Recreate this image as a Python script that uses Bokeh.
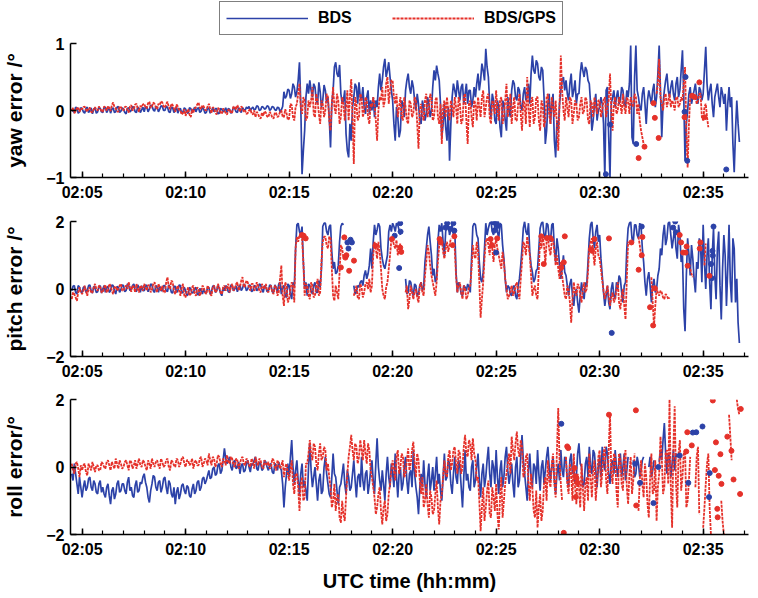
from bokeh.plotting import figure
from bokeh.layouts import column
from bokeh.models import Legend, LegendItem, FixedTicker, Range1d
from bokeh.embed import file_html
from bokeh.resources import INLINE

nan = float("nan")

# ---------------- data: samples every 7.5 s from 02:04:30 ("main"),
# plus the samples half-way between them ("mid") ----------------
start_time = "02:04:30"
step_seconds = 7.5

yaw_bds = [
    0.02, -0.03, 0.04, -0.02,
    0.03, -0.04, 0.05, 0.00, -0.05, 0.04, -0.02, 0.03,
    -0.03, 0.05, 0.01, -0.04, 0.04, -0.02, 0.06, -0.01,
    0.02, -0.05, 0.04, 0.00, 0.05, -0.03, 0.03, 0.01,
    -0.02, 0.05, 0.02, 0.07, -0.01, 0.05, 0.02, 0.06,
    0.00, 0.05, -0.03, 0.04, 0.00, -0.04, 0.03, -0.02,
    0.02, -0.04, 0.03, 0.00, -0.02, 0.04, -0.01, 0.02,
    -0.03, 0.03, 0.00, -0.02, 0.03, -0.04, 0.02, 0.00,
    -0.03, 0.02, -0.01, 0.03, -0.03, 0.01, 0.04, 0.00,
    0.03, 0.00, 0.05, 0.02, 0.06, 0.01, 0.05, 0.03,
    0.06, 0.02, 0.05, 0.00, 0.04, 0.01, 0.28, 0.22,
    0.30, 0.25, 0.35, 0.28, 0.72, -0.95, -0.30, 0.40,
    0.45, 0.20, 0.35, 0.10, 0.28, 0.15, 0.30, 0.20,
    -0.55, 0.30, 0.72, 0.50, 0.25, 0.15, -0.35, -0.70,
    -0.45, 0.20, 0.35, 0.42, 0.15, 0.05, 0.20, -0.05,
    0.00, -0.10, 0.05, 0.55, 0.45, 0.77, 0.60, 0.50,
    0.15, -0.45, -0.10, -0.30, 0.10, 0.30, 0.55, 0.25,
    0.35, 0.00, 0.10, -0.20, 0.05, -0.05, 0.10, 0.00,
    0.60, 0.67, 0.45, -0.40, 0.10, -0.45, -0.75, 0.20,
    0.30, 0.45, 0.15, 0.40, 0.25, 0.10, 0.30, 0.15,
    0.20, 0.55, 0.45, 0.60, 0.92, 0.50, -0.10, 0.15,
    -0.20, 0.05, -0.40, 0.10, -0.30, 0.00, 0.30, 0.40,
    0.15, 0.30, 0.00, 0.35, 0.20, 0.10, 0.82, 0.55,
    0.70, 0.45, 0.60, -0.50, 0.10, -0.20, 0.25, -0.70,
    -0.30, 0.30, 0.50, 0.45, 0.15, 0.55, 0.30, 0.10,
    0.25, 0.72, 0.50, 0.60, 0.40, -0.30, 0.10, -0.15,
    0.05, 0.10, -1.00, 0.35, -1.00, 0.20, 0.05, 0.30,
    0.15, 0.30, 0.05, 0.20, 0.97, -0.50, 0.97, 0.20,
    0.00, 0.35, -0.20, 0.30, 0.10, 0.40, 0.20, 0.97,
    -0.40, 0.30, 0.55, 0.20, 0.45, 0.15, 0.50, 0.30,
    0.90, -0.75, 0.00, 0.35, 0.20, 0.40, 0.10, 0.30,
    0.25, 0.95, 0.15, 0.40, -0.10, 0.30, 0.20, 0.35,
    0.10, -0.30, 0.35, 0.20, -0.92, 0.15, -0.47,
]
yaw_bds_mid = [
    -0.01, 0.05, -0.04, 0.04,
    -0.02, 0.03, -0.03, 0.04, 0.02, -0.04, 0.05, -0.02,
    0.04, -0.03, 0.05, 0.02, -0.03, 0.05, -0.03, 0.04,
    -0.03, 0.03, -0.02, 0.06, -0.02, 0.05, -0.03, 0.05,
    0.06, -0.02, 0.08, 0.01, 0.06, -0.02, 0.07, 0.00,
    0.06, -0.02, 0.05, -0.03, 0.05, 0.02, -0.04, 0.04,
    -0.03, 0.04, -0.03, 0.05, 0.03, -0.03, 0.05, -0.04,
    0.04, -0.04, 0.04, 0.03, -0.05, 0.03, -0.02, 0.04,
    0.03, -0.04, 0.05, -0.02, 0.04, -0.03, 0.01, 0.05,
    0.06, 0.03, 0.01, 0.07, 0.00, 0.06, 0.02, 0.07,
    0.00, 0.06, 0.01, 0.05, -0.02, 0.06, 0.18, 0.32,
    0.18, 0.40, 0.20, 0.45, 0.10, -0.60, 0.20, 0.25,
    0.30, 0.40, 0.15, 0.42, 0.05, 0.38, 0.12, -0.10,
    0.10, 0.65, 0.55, 0.68, 0.10, 0.30, -0.60, -0.20,
    0.05, 0.40, 0.10, 0.20, 0.35, -0.05, 0.30, 0.15,
    0.20, 0.15, 0.35, 0.30, 0.65, 0.50, 0.72, 0.30,
    -0.20, 0.05, -0.40, 0.15, -0.10, 0.45, 0.35, 0.45,
    0.15, 0.25, -0.15, 0.15, -0.15, 0.20, -0.10, 0.35,
    0.45, 0.55, 0.10, -0.20, -0.25, 0.05, -0.20, 0.40,
    0.20, 0.30, 0.35, 0.10, 0.40, 0.30, 0.05, 0.35,
    0.40, 0.30, 0.70, 0.45, 0.65, 0.10, 0.25, -0.15,
    0.15, -0.25, 0.15, -0.15, 0.20, -0.10, 0.45, 0.20,
    0.35, 0.05, 0.25, 0.15, 0.40, 0.55, 0.60, 0.75,
    0.50, 0.65, 0.20, -0.30, 0.25, 0.10, -0.45, -0.15,
    0.10, 0.45, 0.30, 0.25, 0.40, 0.20, 0.45, 0.25,
    0.55, 0.60, 0.65, 0.45, 0.10, -0.15, 0.25, 0.00,
    0.20, -0.20, 0.30, -0.40, 0.10, 0.30, 0.20, 0.10,
    0.35, 0.10, 0.30, 0.40, -0.40, 0.50, 0.30, 0.05,
    0.25, 0.10, 0.15, 0.20, 0.30, 0.05, 0.55, 0.30,
    0.10, 0.45, 0.30, 0.35, 0.25, 0.40, 0.20, 0.60,
    0.20, -0.20, 0.25, 0.10, 0.30, 0.20, 0.35, 0.15,
    0.60, 0.40, 0.30, 0.10, 0.20, 0.40, 0.05, 0.25,
    0.25, 0.10, 0.05, -0.50, -0.30, -0.20, nan,
]

yaw_gps = [
    0.00, -0.04, 0.03, -0.02,
    0.02, 0.06, -0.02, 0.04, -0.03, 0.05, 0.00, 0.03,
    -0.02, 0.04, 0.07, -0.01, 0.12, 0.03, -0.02, 0.05,
    0.00, 0.06, -0.03, 0.08, 0.02, 0.10, -0.02, 0.05,
    0.10, 0.03, 0.13, 0.06, 0.10, 0.02, 0.08, 0.12,
    0.04, 0.13, 0.02, 0.08, -0.02, 0.06, 0.00, -0.04,
    -0.08, 0.02, -0.10, -0.03, 0.05, 0.12, 0.02, 0.06,
    0.00, 0.10, -0.04, 0.03, -0.06, 0.02, -0.05, 0.00,
    -0.06, 0.02, -0.03, 0.05, 0.08, -0.02, 0.04, 0.00,
    -0.04, 0.02, -0.06, -0.10, -0.05, -0.12, -0.08, -0.03,
    -0.10, -0.05, -0.12, -0.04, -0.08, 0.00, -0.10, -0.04,
    -0.12, 0.08, -0.15, 0.10, 0.40, -0.05, 0.15, -0.10,
    0.05, 0.35, -0.10, 0.15, -0.20, 0.10, 0.00, 0.20,
    -0.30, 0.35, -0.05, 0.15, -0.10, 0.10, 0.05, -0.15,
    0.47, -0.80, 0.10, -0.10, 0.20, 0.00, 0.15, -0.20,
    0.05, 0.10, -0.45, 0.20, 0.35, 0.15, 0.50, 0.30,
    0.45, 0.10, -0.10, 0.20, -0.15, 0.05, -0.20, 0.10,
    -0.05, 0.15, -0.57, 0.10, -0.15, 0.25, 0.00, 0.20,
    -0.10, 0.20, -0.20, -0.50, 0.15, 0.20, -0.15, 0.05,
    0.20, -0.20, 0.10, -0.15, 0.25, -0.50, 0.15, -0.25,
    0.10, 0.20, -0.10, 0.30, 0.05, 0.25, -0.20, 0.10,
    0.30, -0.15, 0.20, -0.10, 0.40, 0.05, -0.20, 0.20,
    -0.15, 0.25, -0.30, 0.10, 0.50, -0.25, 0.20, -0.10,
    0.20, -0.30, 0.10, -0.15, 0.25, -0.20, 0.05, 0.15,
    -0.60, 0.82, 0.00, 0.20, -0.10, 0.15, -0.05, 0.10,
    -0.10, 0.20, 0.00, 0.15, -0.20, 0.10, 0.20, -0.05,
    0.15, 0.00, 0.20, 0.05, 0.55, -0.30, 0.20, 0.00,
    0.10, 0.25, -0.05, 0.15, 0.20, 0.05, 0.20, 0.10,
    -0.30, -0.50, nan, nan, nan, nan, 0.25, 0.77,
    0.10, 0.20, 0.05, 0.25, 0.15, 0.00, 0.20, 0.10,
    0.15, 0.65, -0.85, 0.20, nan, 0.20, 0.15, 0.25,
    -0.15, 0.10, -0.25, nan, nan, nan, nan, nan,
    nan, nan, nan, nan, nan, nan, nan,
]
yaw_gps_mid = [
    0.04, -0.01, 0.05, 0.03,
    0.05, 0.01, 0.04, -0.02, 0.02, 0.01, 0.06, -0.01,
    0.06, 0.00, 0.03, 0.08, 0.05, -0.01, 0.06, 0.01,
    0.05, 0.01, 0.06, 0.00, 0.09, 0.03, 0.07, 0.09,
    0.05, 0.11, 0.04, 0.12, 0.05, 0.10, 0.14, 0.06,
    0.10, 0.05, 0.10, 0.03, 0.09, 0.01, -0.06, 0.02,
    -0.02, -0.06, 0.02, 0.03, 0.09, 0.04, 0.08, 0.01,
    0.06, 0.02, 0.05, -0.03, 0.04, -0.03, 0.03, -0.04,
    0.01, -0.04, 0.06, 0.01, 0.03, 0.06, -0.02, -0.05,
    0.00, -0.04, 0.00, -0.02, -0.10, -0.03, -0.01, -0.09,
    -0.02, -0.11, -0.03, -0.10, -0.02, -0.09, 0.02, -0.14,
    0.10, -0.10, 0.05, 0.25, 0.05, 0.20, -0.15, 0.15,
    0.15, -0.05, 0.25, -0.05, 0.15, -0.10, 0.25, -0.15,
    0.10, 0.05, 0.25, -0.20, 0.20, -0.15, 0.30, 0.20,
    -0.10, 0.20, -0.15, 0.25, -0.10, 0.20, -0.10, 0.10,
    0.20, -0.15, 0.00, 0.15, 0.05, 0.40, 0.10, 0.45,
    0.20, 0.25, 0.05, -0.10, 0.20, -0.15, 0.15, -0.10,
    0.20, -0.20, 0.00, -0.10, 0.15, -0.10, 0.25, -0.15,
    0.15, -0.10, 0.10, 0.05, -0.10, 0.00, 0.15, -0.10,
    0.05, 0.20, -0.20, 0.20, -0.15, 0.10, -0.10, 0.15,
    -0.15, 0.05, 0.20, -0.10, 0.20, -0.10, 0.15, -0.05,
    0.00, 0.15, -0.20, 0.15, -0.10, 0.25, 0.05, -0.15,
    0.10, -0.05, 0.15, -0.20, 0.05, 0.15, -0.20, 0.20,
    -0.15, 0.15, -0.25, 0.20, -0.05, 0.20, -0.10, -0.20,
    0.10, 0.30, -0.15, 0.05, 0.20, -0.20, 0.15, -0.15,
    0.10, -0.05, 0.20, -0.15, 0.15, -0.10, 0.05, 0.15,
    -0.10, 0.15, -0.10, 0.15, 0.00, 0.10, -0.05, 0.20,
    -0.05, 0.05, 0.20, -0.05, 0.10, 0.25, -0.05, -0.15,
    -0.40, nan, nan, nan, nan, nan, 0.40, 0.20,
    0.00, 0.25, 0.15, 0.05, 0.10, 0.20, 0.05, 0.20,
    0.40, -0.30, -0.20, nan, nan, 0.10, 0.25, -0.10,
    0.05, -0.10, nan, nan, nan, nan, nan, nan,
    nan, nan, nan, nan, nan, nan, nan,
]

pitch_bds = [
    -0.05, 0.10, -0.15, 0.05,
    -0.10, 0.08, -0.05, 0.12, -0.12, 0.02, -0.08, 0.10,
    0.00, -0.10, 0.08, -0.05, 0.10, -0.15, 0.05, -0.02,
    0.10, -0.05, 0.12, 0.00, 0.15, -0.08, 0.05, 0.10,
    -0.05, 0.10, 0.00, 0.12, -0.10, 0.05, 0.08, -0.05,
    0.10, -0.08, 0.05, -0.12, 0.08, -0.05, 0.10, -0.10,
    -0.05, -0.15, 0.00, -0.10, 0.05, -0.18, -0.05, 0.00,
    -0.12, 0.05, -0.08, 0.10, -0.05, 0.02, -0.20, -0.05,
    0.05, -0.10, 0.10, 0.00, -0.08, 0.12, 0.02, 0.10,
    0.00, 0.10, -0.05, 0.08, 0.00, 0.12, -0.10, 0.05,
    -0.05, 0.10, -0.10, 0.05, 0.15, -0.15, 0.10, -0.25,
    0.10, -0.30, 0.05, 1.90, 1.70, 1.85, 0.00, -0.20,
    0.10, -0.15, 0.20, -0.10, 0.05, 1.85, 1.95, 1.60,
    1.90, 0.60, 0.45, 0.70, 1.85, 1.90, nan, nan,
    nan, 0.10, -0.10, 0.05, 0.25, 0.40, 0.30, 0.70,
    0.60, 1.90, 1.75, 1.85, 0.90, 0.60, 1.00, 1.90,
    1.95, 1.70, 1.90, 1.60, nan, 0.30, -0.10, 0.20,
    -0.20, 0.10, -0.15, 0.20, 0.05, 1.20, 1.85, 1.00,
    0.60, 0.30, 1.90, 1.95, 0.98, 1.85, 1.60, 1.90,
    1.80, -0.10, 0.10, -0.20, 0.05, 0.15, -0.10, 1.85,
    1.90, 1.50, 0.30, 0.50, 1.95, 1.80, 2.00, 1.60,
    1.95, 1.50, 1.90, 0.90, -0.10, 0.05, -0.20, 0.10,
    -0.30, 0.30, 1.20, 2.00, 1.60, 1.10, 0.50, 0.30,
    0.60, 1.80, 2.00, 1.50, 1.90, 1.40, 1.95, 0.80,
    1.20, 0.30, 1.00, 0.40, -0.20, 0.30, -0.50, 0.00,
    -0.70, 0.20, -0.30, 0.10, 1.50, 2.00, 1.20, 1.90,
    1.60, 0.40, -0.50, 0.10, -0.60, 0.20, -0.30, 0.00,
    0.30, -0.40, 0.20, 1.80, 2.00, 1.40, 1.90, 1.50,
    1.85, 0.80, -0.20, 0.50, -0.40, 0.30, 0.00, 0.60,
    1.00, 1.90, 1.50, 2.00, 1.20, 1.80, 0.90, 1.60,
    1.00, -1.25, 1.50, 0.40, 0.90, -0.10, 0.60, 1.30,
    1.90, 0.00, 1.50, -0.60, 1.80, -0.30, 1.70, -0.90,
    1.60, -0.50, 1.90, -0.40, 1.20, 0.30, -1.60,
]
pitch_bds_mid = [
    0.08, -0.10, 0.10, -0.08,
    0.05, -0.10, 0.10, -0.05, 0.08, -0.10, 0.05, -0.12,
    0.10, 0.05, -0.10, 0.12, -0.05, 0.08, -0.10, 0.12,
    -0.08, 0.15, -0.05, 0.10, -0.05, 0.12, -0.10, -0.05,
    0.12, -0.08, 0.15, -0.05, 0.10, -0.10, -0.05, 0.10,
    -0.05, 0.12, -0.10, 0.08, -0.10, 0.12, -0.12, 0.05,
    -0.20, 0.05, -0.12, 0.00, -0.15, 0.02, -0.15, -0.10,
    0.05, -0.15, 0.08, -0.10, 0.10, -0.12, 0.05, 0.10,
    -0.08, 0.12, -0.05, 0.10, 0.05, -0.05, 0.15, -0.05,
    0.12, -0.08, 0.10, -0.05, 0.15, -0.02, 0.10, -0.08,
    0.12, -0.08, 0.12, -0.10, 0.20, 0.05, -0.20, 0.15,
    -0.15, 0.20, 1.20, 1.95, 1.60, 0.80, 0.20, 0.15,
    -0.05, 0.10, -0.10, 0.25, 0.60, 1.95, 1.70, 1.85,
    1.10, 0.80, 0.50, 1.40, 1.95, nan, nan, nan,
    nan, -0.15, 0.10, 0.20, 0.10, 0.55, 0.45, 1.20,
    1.40, 1.60, 1.95, 1.20, 0.70, 0.80, 1.70, 1.70,
    1.85, 1.95, 1.75, nan, nan, -0.15, 0.25, -0.05,
    0.15, -0.20, 0.10, -0.05, 0.80, 1.60, 1.40, 0.40,
    0.20, 1.40, 1.70, 1.40, 1.70, 1.90, 1.75, 1.60,
    0.50, 0.20, -0.15, 0.10, -0.05, 0.05, 0.90, 1.95,
    1.60, 0.80, 0.20, 1.20, 1.60, 1.95, 1.70, 1.90,
    1.70, 1.95, 1.30, 0.30, 0.10, -0.15, 0.05, -0.20,
    0.10, 0.70, 1.80, 1.70, 1.95, 0.70, 0.20, 0.55,
    1.20, 1.95, 1.60, 1.95, 1.50, 1.90, 1.20, 1.50,
    0.70, 0.60, 0.50, 0.10, 0.15, -0.20, -0.10, -0.40,
    -0.20, -0.10, 0.20, 0.80, 1.90, 1.50, 1.70, 1.40,
    0.90, -0.10, -0.20, -0.40, 0.00, -0.20, 0.20, 0.40,
    -0.10, 0.10, 1.20, 1.95, 1.50, 1.90, 1.60, 1.95,
    1.20, 0.20, 0.30, 0.10, 0.10, -0.10, 0.40, 1.20,
    1.60, 1.30, 1.95, 1.60, 1.50, 1.20, 1.90, 0.80,
    -0.60, 0.40, 1.00, 1.30, 0.30, 0.80, 1.50, 0.20,
    0.80, 1.00, 0.20, 1.00, 0.40, 1.20, 0.10, 0.60,
    1.00, 0.60, 0.20, 1.50, -0.40, -1.00, nan,
]

pitch_gps = [
    -0.30, -0.15, -0.35, 0.05,
    -0.15, 0.10, -0.20, 0.05, -0.10, 0.15, -0.05, 0.08,
    -0.10, 0.12, -0.05, 0.10, -0.15, 0.08, 0.00, 0.15,
    -0.05, 0.10, 0.20, -0.08, 0.05, 0.15, -0.10, 0.05,
    0.15, -0.05, 0.10, 0.00, 0.20, -0.10, 0.05, 0.10,
    -0.10, 0.35, 0.00, 0.20, -0.15, 0.10, -0.20, 0.15,
    -0.25, 0.05, -0.15, 0.10, -0.20, 0.00, -0.10, 0.05,
    -0.15, 0.00, -0.20, 0.10, -0.05, 0.05, -0.15, 0.10,
    0.05, -0.10, 0.15, 0.00, 0.20, 0.05, 0.35, 0.10,
    0.20, -0.05, 0.15, 0.00, 0.10, -0.10, 0.05, 0.15,
    -0.10, 0.10, -0.15, 0.05, -0.10, 0.70, -0.50, 0.10,
    -0.30, 0.20, -0.40, 1.55, 1.60, 1.50, -0.20, 0.10,
    -0.30, 0.10, -0.20, 0.30, -0.10, 1.40, 1.55, 1.20,
    1.50, -0.20, 0.10, -0.30, 1.30, 0.90, nan, nan,
    nan, -0.20, 0.10, -0.30, 0.05, -0.10, 0.20, 0.30,
    0.10, 1.40, 0.90, 1.10, 0.00, -0.30, 0.20, 1.00,
    1.50, 1.20, 1.00, 1.35, nan, -0.10, -0.60, 0.10,
    -0.30, 0.00, -0.40, 0.20, -0.20, 0.80, 1.10, 0.40,
    0.00, 0.20, 1.30, 1.45, 0.90, 1.40, 1.30, nan,
    1.20, -0.10, 0.20, -0.30, 0.00, -0.20, 0.10, 1.30,
    0.90, 1.10, -0.85, 0.20, 1.40, 1.30, 1.50, 0.80,
    1.45, 1.00, 0.60, 0.80, 0.00, -0.20, 0.10, -0.10,
    0.20, -0.30, 0.80, 1.30, 1.55, 1.00, -0.20, 0.10,
    -0.30, 1.50, 1.55, 0.75, 1.55, 1.00, 1.50, 0.70,
    0.60, 0.80, 0.10, -0.30, 0.00, -1.00, 0.20, -0.20,
    0.10, -0.40, 0.20, 0.00, 1.20, 1.50, 0.70, 1.40,
    0.90, 0.25, -0.30, 0.10, -0.50, -0.10, -0.30, 0.20,
    -0.60, 0.00, -0.90, 1.40, nan, 0.60, nan, 1.55,
    1.00, nan, -0.55, nan, 0.35, -1.10, 0.00, -0.20,
    -0.10, -0.30, -0.20, -0.25, nan, nan, nan, nan,
    nan, nan, nan, 0.60, 0.35, nan, nan, nan,
    nan, 1.35, 0.00, nan, nan, nan, nan, nan,
    nan, nan, nan, nan, nan, nan, nan,
]
pitch_gps_mid = [
    -0.10, -0.25, -0.10, -0.10,
    -0.05, -0.05, 0.00, -0.12, 0.05, 0.00, 0.10, -0.10,
    0.05, -0.10, 0.15, -0.05, 0.05, -0.05, 0.10, -0.05,
    0.05, 0.00, 0.05, 0.10, -0.10, 0.00, 0.10, -0.05,
    0.05, 0.12, -0.10, 0.15, 0.00, 0.15, -0.05, -0.10,
    0.20, 0.05, 0.25, -0.05, 0.00, -0.05, 0.05, -0.20,
    -0.05, -0.20, 0.05, -0.15, 0.05, -0.20, 0.10, -0.10,
    0.10, -0.15, 0.05, -0.10, 0.15, -0.10, 0.05, -0.05,
    0.15, 0.05, -0.05, 0.15, -0.05, 0.25, 0.05, 0.25,
    0.05, 0.15, -0.05, 0.20, -0.05, 0.15, 0.00, -0.05,
    0.05, -0.10, 0.10, -0.20, 0.30, -0.20, 0.20, -0.40,
    0.00, 0.10, 1.20, 1.40, 1.55, 0.80, 0.15, -0.20,
    0.20, -0.25, 0.10, -0.20, 0.80, 1.55, 1.30, 1.55,
    0.60, -0.35, -0.10, 0.50, 1.20, nan, nan, nan,
    nan, -0.05, -0.25, 0.15, -0.25, 0.15, 0.00, -0.10,
    1.00, 1.20, 1.40, 0.60, -0.20, 0.05, 0.60, 1.45,
    1.30, 1.45, 1.20, nan, nan, 0.10, -0.30, -0.10,
    -0.10, -0.25, 0.10, -0.10, 0.40, 1.30, 0.70, 0.20,
    -0.20, 0.80, 1.50, 1.10, 1.20, 1.10, 1.50, nan,
    0.40, 0.10, -0.10, 0.10, -0.30, 0.05, 0.60, 1.00,
    1.40, 0.20, -0.30, 0.90, 1.50, 1.00, 1.20, 1.30,
    1.20, 0.80, 1.10, 0.30, -0.30, -0.05, -0.20, 0.10,
    -0.10, 0.30, 1.40, 1.00, 1.30, 0.40, 0.00, -0.20,
    0.60, 1.20, 1.30, 1.40, 1.20, 1.40, 1.10, 1.00,
    0.30, 0.40, -0.20, 0.10, -0.40, -0.30, -0.10, 0.15,
    -0.20, 0.00, -0.10, 0.50, 1.40, 1.10, 1.20, 1.00,
    0.60, -0.05, -0.10, -0.20, -0.25, -0.40, 0.00, -0.40,
    -0.20, -0.50, 0.30, nan, nan, nan, nan, 1.30,
    nan, nan, nan, nan, -0.40, -0.50, -0.10, -0.05,
    -0.25, -0.15, -0.30, nan, nan, nan, nan, nan,
    nan, nan, nan, 0.45, nan, nan, nan, nan,
    0.70, nan, nan, nan, nan, nan, nan, nan,
    nan, nan, nan, nan, nan, nan, nan,
]

roll_bds = [
    -0.20, 0.10, -0.50, -0.30,
    -0.90, -0.40, -0.60, -0.30, -0.70, -0.50, -0.80, -0.40,
    -0.60, -0.90, -0.50, -1.10, -0.60, -0.80, -0.40, -0.70,
    -0.50, -0.80, -0.30, -0.60, -0.90, -0.40, -0.70, -0.50,
    -0.20, -0.60, -1.05, -0.50, -0.30, -0.70, -0.40, -0.60,
    -0.30, -0.80, -0.50, -0.90, -1.10, -0.60, -0.80, -0.50,
    -0.80, -0.60, -0.90, -0.50, -0.70, -0.40, -0.60, -0.30,
    -0.40, -0.10, -0.30, 0.00, -0.20, 0.10, -0.10, 0.55,
    0.10, 0.30, -0.10, 0.20, 0.00, -0.20, 0.10, -0.10,
    0.20, -0.15, 0.05, 0.30, -0.10, 0.10, -0.05, 0.15,
    -0.10, 0.10, -0.20, 0.05, 0.15, -0.10, -1.20, -0.20,
    -0.30, 0.80, -0.50, 0.20, -0.80, 0.10, -0.40, -1.00,
    0.70, -0.60, 0.00, -1.00, -0.20, -0.70, 0.30, -0.50,
    -0.90, 0.40, -0.30, -1.10, -0.50, 0.10, -0.80, -0.30,
    -0.60, 0.20, -0.90, -0.20, 0.30, -0.70, -0.10, -0.50,
    0.20, -0.80, 0.85, -0.40, -0.10, -1.00, 0.30, -0.60,
    -0.20, 0.40, -0.90, 0.00, -0.50, 0.30, -0.80, -0.10,
    0.50, -0.60, -1.40, -0.20, 0.20, -0.90, 0.10, -0.40,
    -0.70, 0.30, -0.20, -1.00, 0.40, -0.30, 0.10, -0.80,
    0.30, -0.50, 0.00, -1.20, 0.50, -0.20, -0.70, 0.20,
    -0.40, 0.40, -0.90, 0.10, -0.30, 0.60, -0.60, 0.00,
    0.50, -0.80, 0.20, -0.30, 0.60, -0.50, 0.10, -0.90,
    0.30, -0.40, 0.95, -0.20, -1.00, 0.40, -0.60, 0.00,
    0.50, -0.70, 0.20, -0.10, 0.60, -0.40, 0.30, -0.80,
    0.10, 0.50, -0.30, 0.20, -0.60, 0.40, 0.00, -0.30,
    0.70, 0.00, -0.50, 0.30, 0.60, -0.20, 0.40, -0.60,
    0.30, 0.60, -0.10, 0.40, -0.50, 0.20, 0.50, -0.30,
    0.40, 0.00, -0.40, 0.30, nan, 0.20, -0.20, 0.10,
    -0.10, 0.30, nan, 0.00, -0.30, 0.20, nan, 0.15,
    0.20, 1.30, -0.20, 0.30, 0.10, -0.10, 0.30, nan,
    nan, nan, nan, nan, nan, nan, nan, nan,
    nan, nan, nan, nan, nan, nan, nan, nan,
    nan, nan, nan, nan, nan, nan, nan,
]
roll_bds_mid = [
    -0.40, -0.20, -0.80, -0.60,
    -0.60, -0.70, -0.35, -0.60, -0.40, -0.75, -0.50, -0.75,
    -0.80, -0.60, -0.85, -0.70, -0.95, -0.50, -0.75, -0.50,
    -0.70, -0.45, -0.70, -0.85, -0.55, -0.75, -0.45, -0.30,
    -0.45, -0.90, -0.70, -0.25, -0.60, -0.45, -0.75, -0.35,
    -0.60, -0.40, -0.80, -0.60, -0.75, -0.95, -0.55, -0.70,
    -0.55, -0.85, -0.65, -0.80, -0.45, -0.70, -0.35, -0.50,
    -0.25, -0.35, -0.05, -0.25, 0.05, -0.20, 0.20, 0.25,
    0.20, 0.00, 0.15, -0.05, 0.15, 0.05, -0.15, 0.10,
    0.00, 0.10, 0.20, -0.05, 0.15, -0.10, 0.20, 0.00,
    0.05, -0.15, 0.10, -0.10, 0.00, -0.50, -0.60, 0.10,
    0.30, 0.00, -0.10, -0.40, -0.20, -0.60, -0.70, 0.00,
    -0.10, -0.30, -0.50, -0.40, -0.80, 0.00, -0.20, -0.80,
    -0.30, -0.20, -0.70, -0.60, -0.20, -0.50, -0.10, -0.70,
    -0.20, -0.40, -0.30, -0.60, -0.40, -0.20, -0.80, -0.10,
    -0.40, 0.10, 0.00, -0.70, -0.50, -0.20, -0.30, 0.10,
    -0.60, -0.30, -0.20, -0.70, 0.00, -0.40, -0.20, -0.60,
    -0.20, -0.90, -0.60, -0.60, -0.50, -0.30, -0.70, 0.00,
    -0.20, -0.50, -0.70, -0.30, -0.40, 0.20, -0.50, -0.20,
    -0.30, 0.20, -0.60, -0.30, -0.40, -0.60, 0.00, -0.60,
    0.00, -0.40, -0.20, -0.60, 0.20, -0.20, 0.20, -0.50,
    -0.30, -0.10, -0.60, 0.30, -0.10, -0.20, -0.50, 0.00,
    -0.60, 0.30, 0.20, -0.60, -0.10, -0.30, 0.10, -0.50,
    -0.20, 0.00, -0.50, 0.30, 0.00, 0.00, -0.40, -0.20,
    -0.40, -0.10, 0.30, -0.40, 0.20, -0.20, -0.50, 0.40,
    0.10, -0.60, 0.10, -0.30, 0.00, 0.50, -0.10, 0.00,
    -0.30, 0.10, 0.60, -0.20, 0.10, -0.20, 0.00, 0.20,
    -0.30, 0.40, -0.10, nan, nan, -0.30, 0.30, -0.30,
    0.20, nan, nan, 0.30, -0.10, nan, nan, 0.50,
    0.80, 0.40, 0.40, -0.30, 0.50, 0.40, nan, nan,
    nan, nan, nan, nan, nan, nan, nan, nan,
    nan, nan, nan, nan, nan, nan, nan, nan,
    nan, nan, nan, nan, nan, nan, nan,
]

roll_gps = [
    0.10, -0.20, 0.15, -0.30,
    -0.10, 0.10, -0.25, 0.00, 0.15, -0.15, 0.05, -0.10,
    0.10, -0.05, 0.20, -0.10, 0.05, 0.25, -0.05, 0.10,
    0.00, 0.20, -0.10, 0.15, 0.05, -0.05, 0.25, 0.00,
    0.15, -0.10, 0.10, 0.25, 0.00, 0.20, -0.05, 0.15,
    0.05, 0.25, -0.10, 0.15, 0.00, 0.20, 0.10, 0.30,
    0.00, 0.20, 0.10, -0.05, 0.20, 0.05, 0.30, 0.10,
    0.20, 0.40, 0.05, 0.25, 0.10, 0.30, 0.00, 0.20,
    0.35, 0.10, 0.25, 0.00, 0.20, 0.10, 0.30, 0.05,
    0.20, 0.00, 0.15, 0.30, 0.05, 0.20, -0.05, 0.10,
    0.15, 0.00, 0.20, -0.10, 0.10, 0.05, -0.30, 0.10,
    -0.40, 0.20, -0.80, -0.20, -1.30, -0.30, -0.90, 0.10,
    0.80, 0.20, 0.60, -0.10, 0.70, 0.30, 0.50, 0.10,
    -0.60, -1.00, -1.30, -0.80, -1.65, -1.40, -0.90, 0.30,
    0.95, 0.20, 0.60, 0.30, 0.50, 0.80, 0.10, 0.50,
    -0.30, -0.90, -1.20, -0.60, -1.70, -1.00, -1.40, -0.50,
    0.20, -0.40, 0.50, 0.00, 0.30, -0.20, 0.55, 0.10,
    0.75, -0.30, 0.20, -0.80, -1.20, -0.50, -1.50, -0.90,
    -1.30, -0.40, -1.70, -0.80, 0.20, -0.30, 0.50, 0.10,
    0.60, -0.20, 0.40, 0.00, 0.95, 0.30, 0.70, 0.85,
    0.20, -0.30, -1.90, -0.60, -1.20, -0.40, -1.50, -0.90,
    -0.50, -1.85, -0.30, -1.00, -0.20, 0.40, 0.90, 0.20,
    1.05, 0.30, 0.60, -0.20, 0.40, -1.00, -0.60, -1.50,
    -1.80, -0.80, -1.30, -0.30, 0.20, -0.60, 0.40, -0.90,
    1.75, -0.50, nan, 0.30, -0.80, -0.20, 0.40, -1.10,
    -0.60, 0.10, -1.30, -0.30, 0.40, -0.90, 0.20, -0.40,
    0.50, -0.20, 0.60, -0.80, 1.60, -0.50, 0.30, -1.20,
    0.20, -0.70, 0.50, -1.10, 0.30, -0.40, nan, -1.30,
    0.20, -0.90, -0.30, -1.50, 0.40, -0.70, -1.60, -0.20,
    0.30, -0.60, 0.50, 2.00, -1.80, 1.80, -1.20, 0.80,
    -0.30, 0.50, -1.00, 0.30, nan, -0.60, 0.60, nan,
    -1.80, -0.50, 0.40, -2.00, nan, nan, nan, -1.00,
    -2.00, nan, 1.55, 0.20, nan, 2.00, 1.55,
]
roll_gps_mid = [
    -0.10, 0.10, -0.05, 0.05,
    0.05, -0.15, 0.10, -0.10, 0.00, 0.05, -0.10, 0.15,
    0.00, 0.15, 0.05, 0.15, -0.05, 0.10, 0.20, -0.05,
    0.15, 0.05, 0.20, -0.05, 0.20, 0.10, 0.05, 0.20,
    0.00, 0.20, -0.05, 0.10, 0.15, 0.05, 0.25, 0.00,
    0.20, 0.00, 0.20, 0.05, 0.25, 0.00, 0.25, 0.10,
    0.20, 0.05, 0.25, 0.15, 0.05, 0.25, 0.00, 0.25,
    0.05, 0.20, 0.30, 0.00, 0.35, 0.10, 0.25, 0.05,
    0.15, 0.30, 0.05, 0.25, -0.05, 0.25, 0.10, 0.25,
    0.05, 0.25, -0.05, 0.15, 0.25, 0.00, 0.20, 0.05,
    -0.05, 0.25, 0.00, 0.20, -0.05, 0.20, 0.00, -0.20,
    -0.10, -0.50, -0.20, -0.60, -0.50, -1.00, 0.10, 0.40,
    0.40, 0.70, 0.10, 0.40, 0.20, 0.60, -0.10, -0.30,
    -1.20, -0.50, -0.90, -1.50, -1.00, -1.60, -0.20, 0.60,
    0.50, 0.70, 0.10, 0.80, 0.20, 0.40, 0.70, -0.10,
    -0.60, -1.40, -0.80, -1.30, -1.20, -1.60, -0.80, -0.10,
    -0.10, 0.30, -0.20, 0.40, -0.30, 0.20, -0.10, 0.50,
    0.10, 0.40, -0.40, -0.30, -1.00, -1.10, -0.70, -1.40,
    -0.80, -1.20, -1.00, -0.30, -0.20, 0.30, -0.10, 0.50,
    0.10, 0.50, -0.20, 0.60, 0.40, 0.80, 0.20, 0.40,
    -0.40, -1.00, -1.20, -1.60, -0.70, -1.40, -0.60, -1.30,
    -1.40, -0.90, -1.50, -0.50, 0.10, -0.20, 0.50, 0.70,
    0.50, 0.80, -0.30, 0.30, -0.50, -0.20, -1.30, -0.70,
    -1.20, -1.60, -0.50, -1.00, -0.40, 0.10, -0.50, 0.50,
    0.20, -1.00, nan, -0.50, 0.10, -1.00, -0.60, -0.20,
    -1.20, -0.60, -0.50, -1.00, -0.30, -0.10, -1.00, 0.30,
    -0.60, 0.40, -0.40, 0.50, -0.20, 0.40, -0.70, 0.40,
    -0.50, 0.30, -0.60, -0.20, -0.80, 0.40, nan, -0.40,
    -0.50, 0.10, -1.10, -0.30, -0.80, 0.20, -0.60, 0.90,
    -0.80, 0.40, -0.50, -0.60, 0.60, -0.50, 0.40, -0.70,
    0.40, -1.20, -0.40, nan, nan, 0.30, -1.40, nan,
    -1.20, 0.10, -1.20, nan, nan, nan, nan, -1.60,
    nan, nan, 0.90, nan, nan, 1.70, nan,
]

# isolated samples (drawn as dots)
yaw_bds_dot_t = ["02:30:18", "02:30:30", "02:31:46", "02:34:06", "02:34:09", "02:34:14", "02:36:07"]
yaw_bds_dot_v = [-0.95, -0.21, -0.50, -0.02, 0.50, -0.75, -0.88]
yaw_gps_dot_t = ["02:31:53", "02:32:10", "02:32:36", "02:32:40", "02:32:51", "02:34:06",
                 "02:34:28", "02:34:35", "02:34:49", "02:35:04"]
yaw_gps_dot_v = [-0.71, -0.54, 0.11, -0.11, -0.41, -0.10, 0.22, 0.20, 0.42, -0.10]

pitch_bds_dot_t = ["02:17:49", "02:17:52", "02:17:58", "02:18:02", "02:20:06", "02:20:19", "02:20:22",
                   "02:20:23", "02:22:33", "02:22:38", "02:22:47", "02:22:56", "02:22:59", "02:24:53",
                   "02:24:55", "02:24:57", "02:25:00", "02:25:01", "02:25:04", "02:30:35", "02:32:02",
                   "02:33:33", "02:33:39", "02:33:41", "02:35:23", "02:35:25", "02:35:27", "02:35:28",
                   "02:35:30"]
pitch_bds_dot_v = [1.38, 1.20, 1.46, 1.38, 1.58, 0.62, 1.95,
                   1.70, 1.82, 1.95, 1.78, 1.95, 1.73, 1.97,
                   1.73, 1.97, 1.08, 1.97, 1.87, -1.30, 1.85,
                   1.82, 2.00, 1.68, 0.74, 0.32, 1.13, 0.99,
                   1.85]
pitch_gps_dot_t = ["02:15:37", "02:15:42", "02:15:48", "02:17:30", "02:17:40", "02:17:43", "02:17:46",
                   "02:17:54", "02:18:08", "02:19:10", "02:19:58", "02:20:22", "02:20:25", "02:22:16",
                   "02:22:19", "02:22:54", "02:22:59", "02:24:44", "02:24:48", "02:25:03", "02:27:11",
                   "02:27:18", "02:27:27", "02:27:37", "02:28:09", "02:28:16", "02:28:19", "02:29:35",
                   "02:29:38", "02:29:45", "02:30:27", "02:31:32", "02:31:53", "02:32:02", "02:32:04",
                   "02:32:26", "02:32:35", "02:32:40", "02:33:52", "02:33:56", "02:34:02", "02:34:09",
                   "02:34:12", "02:34:15", "02:34:52", "02:34:50", "02:35:18"]
pitch_gps_dot_v = [1.60, 1.58, 1.50, 0.64, 1.53, 0.93, 1.00,
                   0.54, 0.84, 1.28, 1.48, 1.23, 1.10, 1.48,
                   1.38, 1.30, 1.56, 1.48, 1.30, 1.50, 1.56,
                   0.74, 1.51, 1.51, 0.64, 0.79, 1.56, 1.18,
                   1.13, 1.48, 1.50, 1.38, 0.57, 1.00, 1.54,
                   -0.54, -1.08, 0.02, 1.60, 1.38, 1.08, 1.08,
                   1.26, 0.69, 1.38, 1.20, 0.39]

roll_bds_dot_t = ["02:28:09", "02:31:43", "02:31:57", "02:32:36", "02:32:50", "02:33:52", "02:34:17",
                  "02:34:30", "02:34:40", "02:34:58", "02:35:17", "02:35:19"]
roll_bds_dot_v = [1.28, 0.10, -0.47, -1.07, 0.00, 0.34, -0.47,
                  1.02, 1.03, 1.20, -0.89, -0.18]
roll_gps_dot_t = ["02:28:16", "02:28:26", "02:28:29", "02:28:47", "02:28:50", "02:28:53", "02:28:56",
                  "02:28:51", "02:30:27", "02:31:45", "02:31:46", "02:34:14", "02:34:27", "02:34:11",
                  "02:35:28", "02:35:37", "02:35:50", "02:35:34", "02:35:45", "02:35:53", "02:35:41",
                  "02:35:42", "02:36:28", "02:36:10", "02:36:22", "02:36:49", "02:36:47"]
roll_gps_dot_v = [-1.95, 0.61, 0.56, -0.03, -0.28, -0.33, -0.47,
                  -0.89, 1.55, 1.68, -1.14, 1.03, 0.64, 0.46,
                  1.97, 0.73, 0.38, -0.09, -0.26, -0.50, -1.24,
                  -1.49, -0.37, 0.90, 0.48, 1.72, -0.80]

x_tick_values = [5, 10, 15, 20, 25, 30, 35]
x_tick_labels = ["02:05", "02:10", "02:15", "02:20", "02:25", "02:30", "02:35"]
x_minor_ticks = list(range(5, 38))
series_labels = ["BDS", "BDS/GPS"]
panel_labels = ["yaw error /\u00b0", "pitch error /\u00b0", "roll error/\u00b0"]
x_axis_label = "UTC time (hh:mm)"


def to_minutes(s):
    h, m, sec = s.split(":")
    return (int(h) - 2) * 60 + int(m) + float(sec) / 60.0


t0 = to_minutes(start_time)
dt = step_seconds / 60.0


def interleave(main, mid):
    xs, ys = [], []
    for i, v in enumerate(main):
        xs.append(t0 + i * dt)
        ys.append(v)
        if i < len(mid):
            xs.append(t0 + (i + 0.5) * dt)
            ys.append(mid[i])
    return xs, ys


FONT = "Liberation Sans"
BLUE = "#2C42A8"
RED = "#E5312A"
W = 752
x_range = Range1d(4.44, 37.19)


def panel(ylabel, yr, yticks, height, btop, bbottom, xlabel=None):
    p = figure(width=W, height=height, x_range=x_range, y_range=Range1d(yr[0], yr[1]),
               output_backend="svg", toolbar_location=None,
               min_border_left=61, min_border_right=4, min_border_top=btop,
               min_border_bottom=bbottom)
    p.outline_line_color = None
    p.grid.visible = False
    p.background_fill_color = "white"
    p.border_fill_color = "white"
    p.xaxis.ticker = FixedTicker(ticks=x_tick_values, minor_ticks=x_minor_ticks)
    p.xaxis.major_label_overrides = {v: l for v, l in zip(x_tick_values, x_tick_labels)}
    p.yaxis.ticker = FixedTicker(ticks=yticks)
    for ax in (p.xaxis[0], p.yaxis[0]):
        ax.axis_line_width = 1.5
        ax.axis_line_color = "black"
        ax.major_tick_in = 6
        ax.major_tick_out = 0
        ax.minor_tick_in = 4
        ax.minor_tick_out = 0
        ax.major_tick_line_width = 1.5
        ax.minor_tick_line_width = 1.2
        ax.major_label_text_font = FONT
        ax.major_label_text_font_style = "bold"
        ax.major_label_text_font_size = "16px"
        ax.major_label_text_color = "black"
        ax.axis_label_text_font = FONT
        ax.axis_label_text_font_style = "bold"
        ax.axis_label_text_font_size = "20px"
        ax.axis_label_text_color = "black"
    p.yaxis.axis_label_text_font_size = "21px"
    p.yaxis.minor_tick_line_color = None
    p.xaxis.major_label_standoff = 6
    p.yaxis.major_label_standoff = 6
    p.yaxis.axis_label = ylabel
    p.yaxis.axis_label_standoff = 17
    if xlabel:
        p.xaxis.axis_label = xlabel
        p.xaxis.axis_label_standoff = 9
    return p


def draw(p, bds, bds_mid, gps, gps_mid, bt, bv, gt, gv):
    bx, by = interleave(bds, bds_mid)
    gx, gy = interleave(gps, gps_mid)
    p.line(bx, by, line_color=BLUE, line_width=1.7)
    p.line(gx, gy, line_color=RED, line_width=1.8, line_dash="3 1")
    p.scatter([to_minutes(s) for s in bt], bv, size=5, color=BLUE)
    p.scatter([to_minutes(s) for s in gt], gv, size=5, color=RED)


# legend strip above the panels (key glyphs carry one blank sample)
p0 = figure(width=W, height=35, x_range=Range1d(0, 1), y_range=Range1d(0, 1),
            output_backend="svg", toolbar_location=None,
            x_axis_location=None, y_axis_location=None, min_border=0)
p0.outline_line_color = None
p0.grid.visible = False
key_b = p0.line([nan], [nan], line_color=BLUE, line_width=1.7)
key_g = p0.line([nan], [nan], line_color=RED, line_width=1.8, line_dash="3 1")
legend = Legend(items=[LegendItem(label=series_labels[0], renderers=[key_b]),
                       LegendItem(label=series_labels[1], renderers=[key_g])],
                orientation="horizontal", location=(149, 0))
legend.border_line_color = "black"
legend.border_line_width = 1.5
legend.background_fill_color = "white"
legend.background_fill_alpha = 1.0
legend.label_text_font = FONT
legend.label_text_font_style = "bold"
legend.label_text_font_size = "16px"
legend.label_text_color = "black"
legend.glyph_width = 82
legend.glyph_height = 20
legend.label_height = 20
legend.label_width = 50
legend.label_standoff = 10
legend.spacing = 24
legend.padding = 6
legend.margin = 0
p0.add_layout(legend)

p1 = panel(panel_labels[0], (-1, 1), [-1, 0, 1], 175, 8, 33)
draw(p1, yaw_bds, yaw_bds_mid, yaw_gps, yaw_gps_mid,
     yaw_bds_dot_t, yaw_bds_dot_v, yaw_gps_dot_t, yaw_gps_dot_v)
p2 = panel(panel_labels[1], (-2, 2), [-2, 0, 2], 179, 11, 33)
draw(p2, pitch_bds, pitch_bds_mid, pitch_gps, pitch_gps_mid,
     pitch_bds_dot_t, pitch_bds_dot_v, pitch_gps_dot_t, pitch_gps_dot_v)
p3 = panel(panel_labels[2], (-2, 2), [-2, 0, 2], 207, 10, 62, xlabel=x_axis_label)
draw(p3, roll_bds, roll_bds_mid, roll_gps, roll_gps_mid,
     roll_bds_dot_t, roll_bds_dot_v, roll_gps_dot_t, roll_gps_dot_v)

layout = column(p0, p1, p2, p3)
open("out.html", "w").write(file_html(layout, INLINE))
